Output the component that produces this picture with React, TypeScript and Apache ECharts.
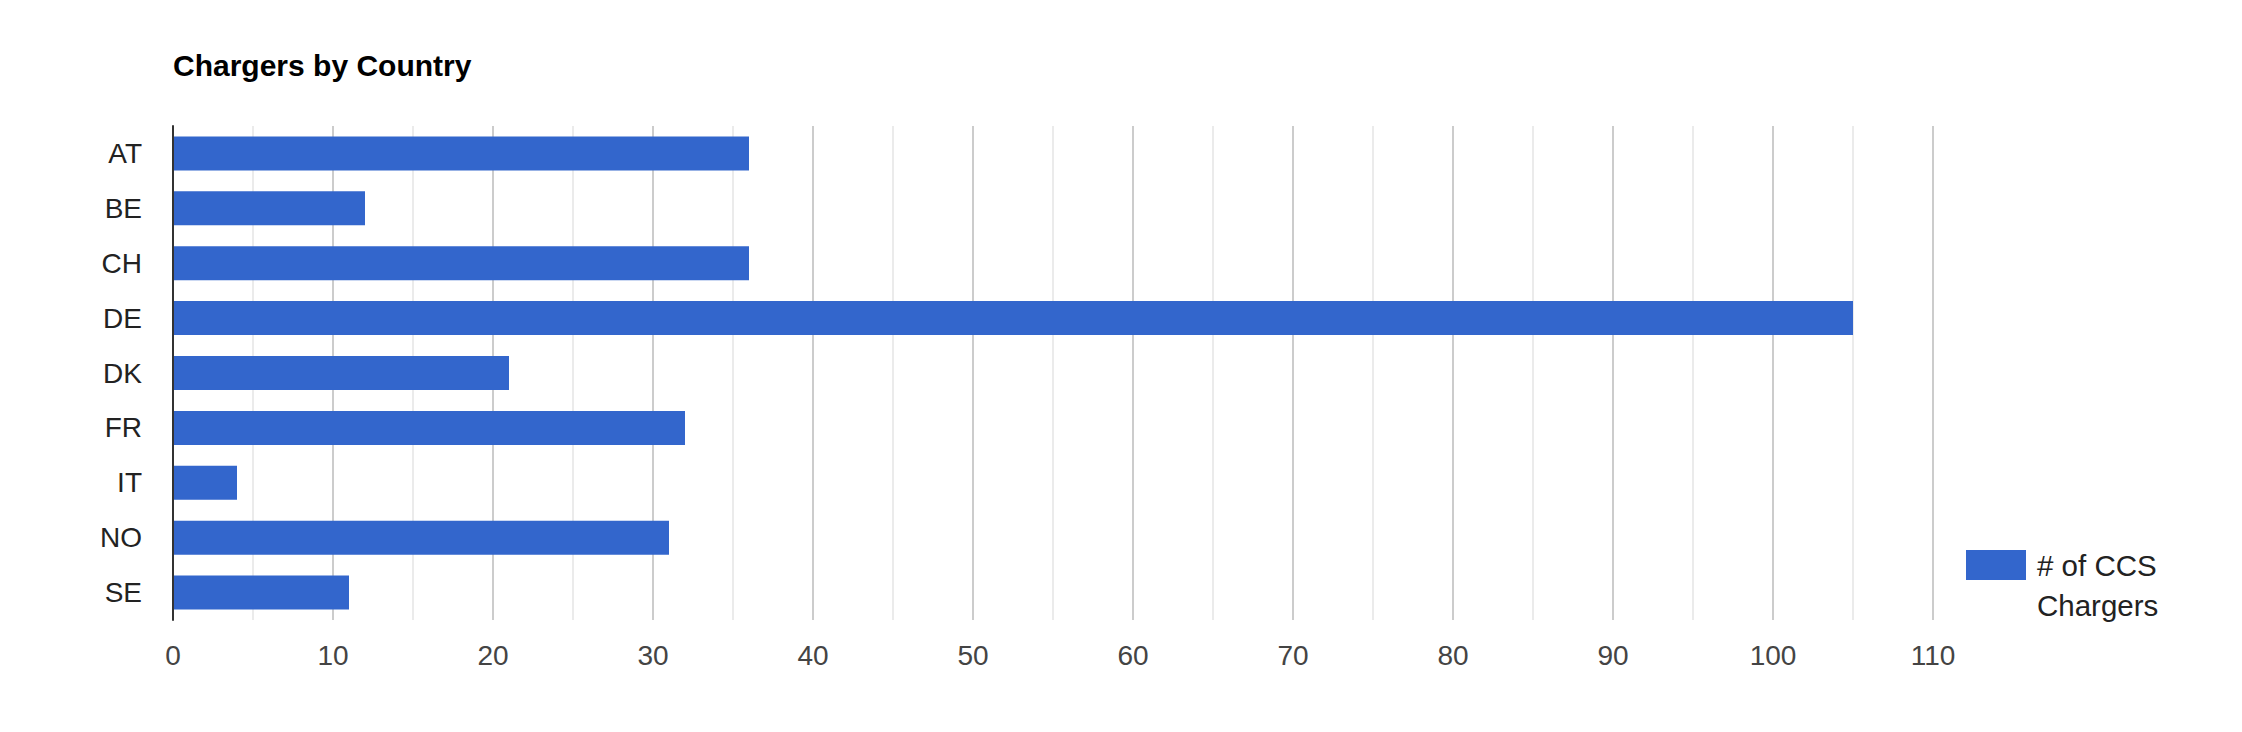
import React, { useEffect, useRef } from "react";
import * as echarts from "echarts";

const countries = ["AT", "BE", "CH", "DE", "DK", "FR", "IT", "NO", "SE"];
const chargers = [36, 12, 36, 105, 21, 32, 4, 31, 11];
const seriesName = "# of CCS Chargers";
const legendLines = ["# of CCS", "Chargers"];
const titleText = "Chargers by Country";

const FONT = 'Arial, "Liberation Sans", sans-serif';
const BAR = "#3366cc";

export default function App() {
  const ref = useRef<HTMLDivElement>(null);
  useEffect(() => {
    if (!ref.current) return;
    const chart = echarts.init(ref.current, undefined, { renderer: "svg" });
    chart.setOption({
      animation: false,
      backgroundColor: "#ffffff",
      title: {
        text: titleText,
        left: 173,
        top: 50,
        padding: 0,
        textStyle: { fontFamily: FONT, fontSize: 30, fontWeight: "bold", color: "#000" },
      },
      grid: { left: 173, right: 309, top: 126, bottom: 112, containLabel: false },
      xAxis: {
        type: "value",
        min: 0,
        max: 110,
        interval: 10,
        axisLine: { show: false },
        axisTick: { show: false },
        axisLabel: { fontFamily: FONT, fontSize: 28, color: "#444", margin: 21 },
        splitLine: { show: true, lineStyle: { color: "#cccccc", width: 2 } },
        minorTick: { show: false, splitNumber: 2 },
        minorSplitLine: { show: true, lineStyle: { color: "#ebebeb", width: 2 } },
      },
      yAxis: {
        type: "category",
        inverse: true,
        data: countries,
        axisLine: { show: true, lineStyle: { color: "#333333", width: 2 } },
        axisTick: { show: false },
        axisLabel: { fontFamily: FONT, fontSize: 28, color: "#222", margin: 31 },
        splitLine: { show: false },
        z: 5,
      },
      series: [
        {
          name: seriesName,
          type: "bar",
          data: chargers,
          barWidth: 34,
          itemStyle: { color: BAR },
          z: 2,
        },
      ],
      graphic: [
        {
          type: "rect",
          left: 1966,
          top: 550,
          shape: { width: 60, height: 30 },
          style: { fill: BAR },
        },
        {
          type: "text",
          left: 2037,
          top: 545,
          style: {
            text: legendLines.join("\n"),
            fontFamily: FONT,
            fontSize: 29.5,
            lineHeight: 40,
            fill: "#222",
          },
        },
      ],
    });
    return () => chart.dispose();
  }, []);
  return (
    <div
      ref={ref}
      style={{ position: "fixed", left: 0, top: 0, width: 2242, height: 732 }}
    />
  );
}
